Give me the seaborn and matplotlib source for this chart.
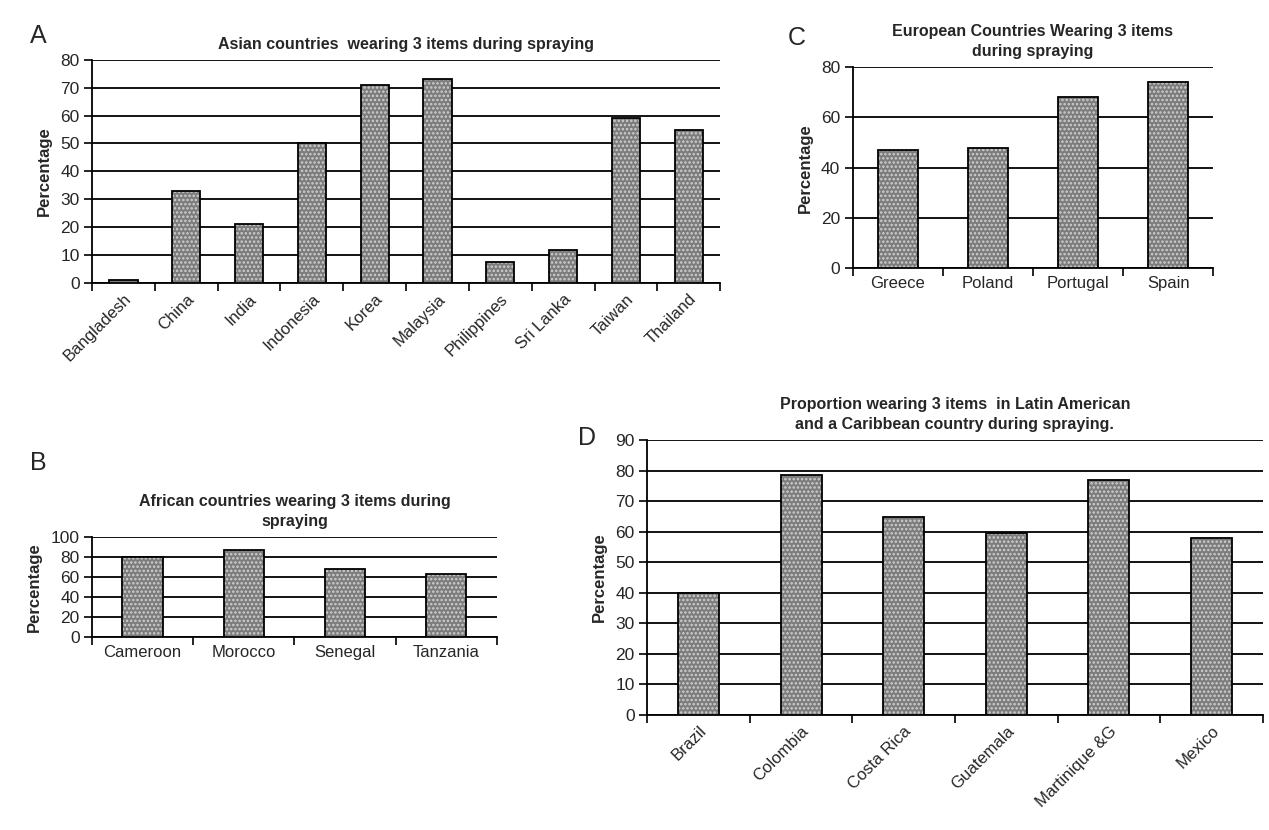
import numpy as np
import pandas as pd
import matplotlib
matplotlib.use('Agg')
import matplotlib.pyplot as plt
import seaborn as sns

# ---- data ----
asia_countries = ['Bangladesh', 'China', 'India', 'Indonesia', 'Korea', 'Malaysia',
                  'Philippines', 'Sri Lanka', 'Taiwan', 'Thailand']
asia_values = [1, 33, 21, 50, 71, 73, 7.5, 12, 59, 55]

europe_countries = ['Greece', 'Poland', 'Portugal', 'Spain']
europe_values = [47, 48, 68, 74]

africa_countries = ['Cameroon', 'Morocco', 'Senegal', 'Tanzania']
africa_values = [80, 87, 68, 63]

latam_countries = ['Brazil', 'Colombia', 'Costa Rica', 'Guatemala', 'Martinique &G', 'Mexico']
latam_values = [40, 78.5, 65, 59.5, 77, 58]

sns.set_style('white')
plt.rcParams['font.family'] = ['Liberation Sans', 'DejaVu Sans']
plt.rcParams['hatch.linewidth'] = 1.2

fig = plt.figure(figsize=(12.69, 8.30), dpi=100)


def panel(rect, cats, vals, ymax, ystep, title, rot, width):
    ax = fig.add_axes(rect)
    df = pd.DataFrame({'country': cats, 'pct': vals})
    # dotted grey fill
    sns.barplot(data=df, x='country', y='pct', color='#7c7c7c', width=width,
                saturation=1, ax=ax, zorder=3)
    for p in ax.patches:
        p.set_hatch('....')
        p.set_edgecolor('#d0d0d0')
        p.set_linewidth(0)
    # black outline on top
    sns.barplot(data=df, x='country', y='pct', fill=False, width=width,
                edgecolor='black', linewidth=1.3, ax=ax, zorder=4)
    n = len(cats)
    ax.set_xlim(-0.5, n - 0.5)
    ax.set_ylim(0, ymax)
    ax.set_yticks(np.arange(0, ymax + 1, ystep))
    ax.yaxis.grid(True, color='black', linewidth=1.3, zorder=0)
    ax.set_axisbelow(True)
    for s in ['top', 'right']:
        ax.spines[s].set_visible(False)
    for s in ['left', 'bottom']:
        ax.spines[s].set_color('black')
        ax.spines[s].set_linewidth(1.3)
    ax.set_xticks(np.arange(-0.5, n), minor=True)
    ax.tick_params(axis='x', which='minor', length=6, width=1.2, color='black',
                   direction='out', bottom=True)
    ax.tick_params(axis='x', which='major', length=0, labelsize=12, pad=6)
    ax.tick_params(axis='y', length=6, width=1.2, color='black', direction='out',
                   left=True, labelsize=12.5, pad=3)
    if rot:
        ax.set_xticks(range(n))
        ax.set_xticklabels(cats, rotation=45, ha='right', rotation_mode='anchor')
    ax.set_xlabel('')
    ax.set_ylabel('Percentage', fontsize=12, fontweight='bold', labelpad=6)
    ax.set_title(title, fontsize=11.5, fontweight='bold', pad=8, linespacing=1.4)
    return ax


panel([0.0725, 0.659, 0.495, 0.269], asia_countries, asia_values, 80, 10,
      'Asian countries  wearing 3 items during spraying', True, 0.45)
panel([0.672, 0.677, 0.284, 0.242], europe_countries, europe_values, 80, 20,
      'European Countries Wearing 3 items\nduring spraying', False, 0.45)
panel([0.0725, 0.2325, 0.319, 0.1205], africa_countries, africa_values, 100, 20,
      'African countries wearing 3 items during\nspraying', False, 0.4)
panel([0.51, 0.1386, 0.485, 0.331], latam_countries, latam_values, 90, 10,
      'Proportion wearing 3 items  in Latin American\nand a Caribbean country during spraying.', True, 0.4)

fig.text(30 / 1269, 1 - 36 / 830, 'A', fontsize=18, ha='left', va='center')
fig.text(30 / 1269, 1 - 463 / 830, 'B', fontsize=18, ha='left', va='center')
fig.text(788 / 1269, 1 - 38 / 830, 'C', fontsize=18, ha='left', va='center')
fig.text(578 / 1269, 1 - 438 / 830, 'D', fontsize=18, ha='left', va='center')

fig.savefig('out.png', dpi=100, facecolor='white')
